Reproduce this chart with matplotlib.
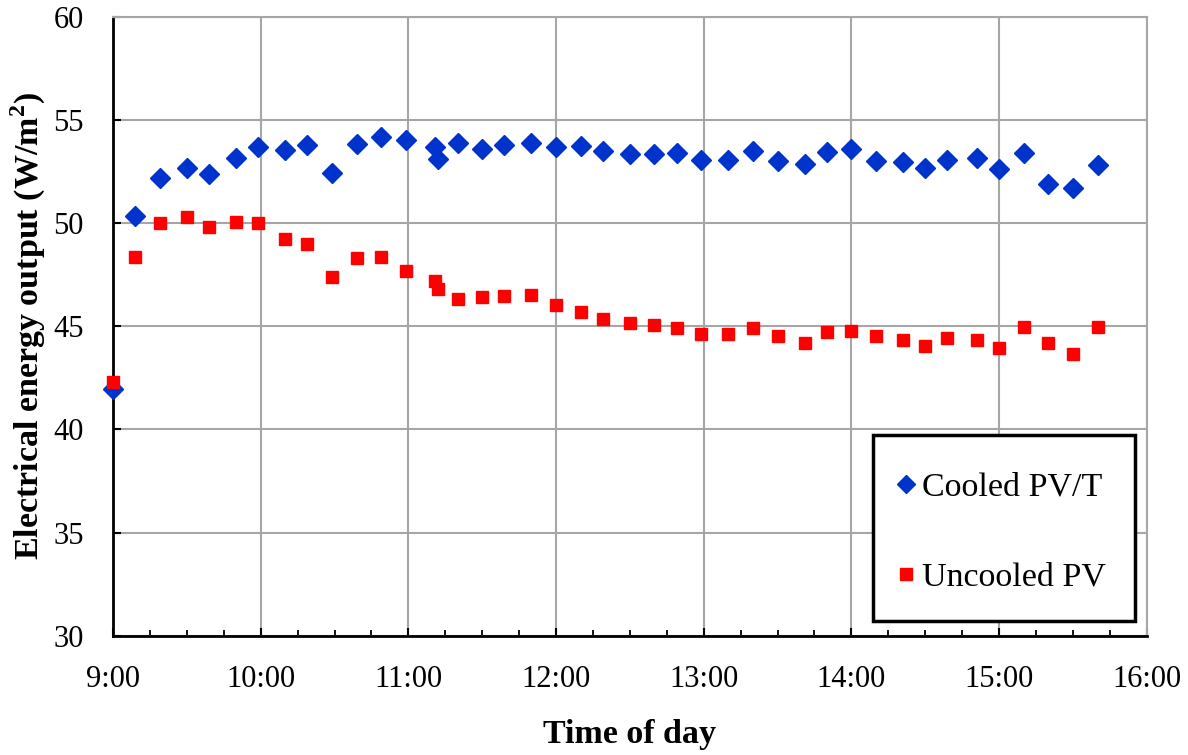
import matplotlib
matplotlib.use("Agg")
import matplotlib.pyplot as plt
from matplotlib.lines import Line2D
from matplotlib.patches import Rectangle
from matplotlib.ticker import MultipleLocator

times = ["9:00", "9:09", "9:19", "9:30", "9:39", "9:50", "9:59", "10:10", "10:19", "10:29",
         "10:39", "10:49", "10:59", "11:11", "11:12", "11:20", "11:30", "11:39", "11:50", "12:00",
         "12:10", "12:19", "12:30", "12:40", "12:49", "12:59", "13:10", "13:20", "13:30", "13:41",
         "13:50", "14:00", "14:10", "14:21", "14:30", "14:39", "14:51", "15:00", "15:10", "15:20",
         "15:30", "15:40"]

cooled = [41.95, 50.36, 52.17, 52.69, 52.38, 53.17, 53.69, 53.55, 53.80, 52.42,
          53.85, 54.19, 54.05, 53.71, 53.11, 53.87, 53.59, 53.80, 53.89, 53.68,
          53.76, 53.48, 53.37, 53.37, 53.42, 53.08, 53.05, 53.51, 53.03, 52.85,
          53.47, 53.59, 53.01, 52.95, 52.66, 53.06, 53.14, 52.63, 53.38, 51.91,
          51.70, 52.82]

uncooled = [42.32, 48.37, 49.99, 50.28, 49.81, 50.04, 49.99, 49.23, 49.00, 47.41,
            48.33, 48.37, 47.70, 47.20, 46.81, 46.32, 46.42, 46.47, 46.53, 46.01,
            45.71, 45.37, 45.15, 45.08, 44.90, 44.64, 44.64, 44.92, 44.51, 44.19,
            44.74, 44.79, 44.51, 44.34, 44.06, 44.43, 44.32, 43.95, 44.97, 44.19,
            43.66, 44.97]

xtick_labels = ["9:00", "10:00", "11:00", "12:00", "13:00", "14:00", "15:00", "16:00"]
yticks = [30, 35, 40, 45, 50, 55, 60]


def to_hours(s):
    h, m = s.split(":")
    return int(h) + int(m) / 60.0


x = [to_hours(t) for t in times]
xticks = [to_hours(t) for t in xtick_labels]

plt.rcParams['font.family'] = ['Liberation Serif', 'DejaVu Serif']
plt.rcParams['mathtext.fontset'] = 'custom'
plt.rcParams['mathtext.bf'] = 'Liberation Serif:bold'
plt.rcParams['mathtext.rm'] = 'Liberation Serif'

fig = plt.figure(figsize=(11.88, 7.55), dpi=100)
ax = fig.add_axes([0.0951, 0.1579, 0.8702, 0.8198])

blue = "#0033cc"
red = "#ff0000"

ax.plot(x, cooled, linestyle="none", marker="D", markersize=10, color=blue, zorder=3, clip_on=False)
ax.plot(x, uncooled, linestyle="none", marker="s", markersize=9, color=red, zorder=4, clip_on=False)

ax.set_xlim(xticks[0], xticks[-1])
ax.set_ylim(yticks[0], yticks[-1])
ax.set_xticks(xticks)
ax.set_xticklabels(xtick_labels)
ax.set_yticks(yticks)
ax.xaxis.set_minor_locator(MultipleLocator(0.25))

ax.grid(True, which="major", color="#a6a6a6", linewidth=1.5)
ax.set_axisbelow(True)

for side in ["top", "right"]:
    ax.spines[side].set_color("#a6a6a6")
    ax.spines[side].set_linewidth(1.5)
for side in ["left", "bottom"]:
    ax.spines[side].set_color("black")
    ax.spines[side].set_linewidth(2)

ax.tick_params(axis="both", which="major", direction="in", length=6, width=1.5, labelsize=22)
ax.tick_params(axis="x", which="minor", direction="in", length=4.5, width=1.3, top=False)
ax.tick_params(axis="x", which="major", pad=21)
ax.tick_params(axis="y", which="major", pad=21)

ax.set_xlabel("Time of day", fontsize=24.5, fontweight="bold")
ax.xaxis.set_label_coords(0.5, -0.135)
ax.set_ylabel("Electrical energy output (W/m$^\\mathbf{2}$)", fontsize=24.5, fontweight="bold")
ax.yaxis.set_label_coords(-0.063, 0.5)

# legend box (drawn separately so its padding matches the reference)
box = Rectangle((0.7353, 0.0239), 0.2534, 0.3005, transform=ax.transAxes,
                facecolor="white", edgecolor="black", linewidth=2.5, zorder=5)
ax.add_patch(box)

handles = [
    Line2D([], [], linestyle="none", marker="D", markersize=9.5, color=blue),
    Line2D([], [], linestyle="none", marker="s", markersize=8.5, color=red),
]
leg = ax.legend(handles, ["Cooled PV/T", "Uncooled PV"], loc="center left",
                bbox_to_anchor=(0.754, 0.1669), fontsize=24.5, frameon=False,
                labelspacing=1.74, handletextpad=0.08, handlelength=0.8,
                borderpad=0, borderaxespad=0)
leg.set_zorder(6)

fig.savefig("out.png", dpi=100)
